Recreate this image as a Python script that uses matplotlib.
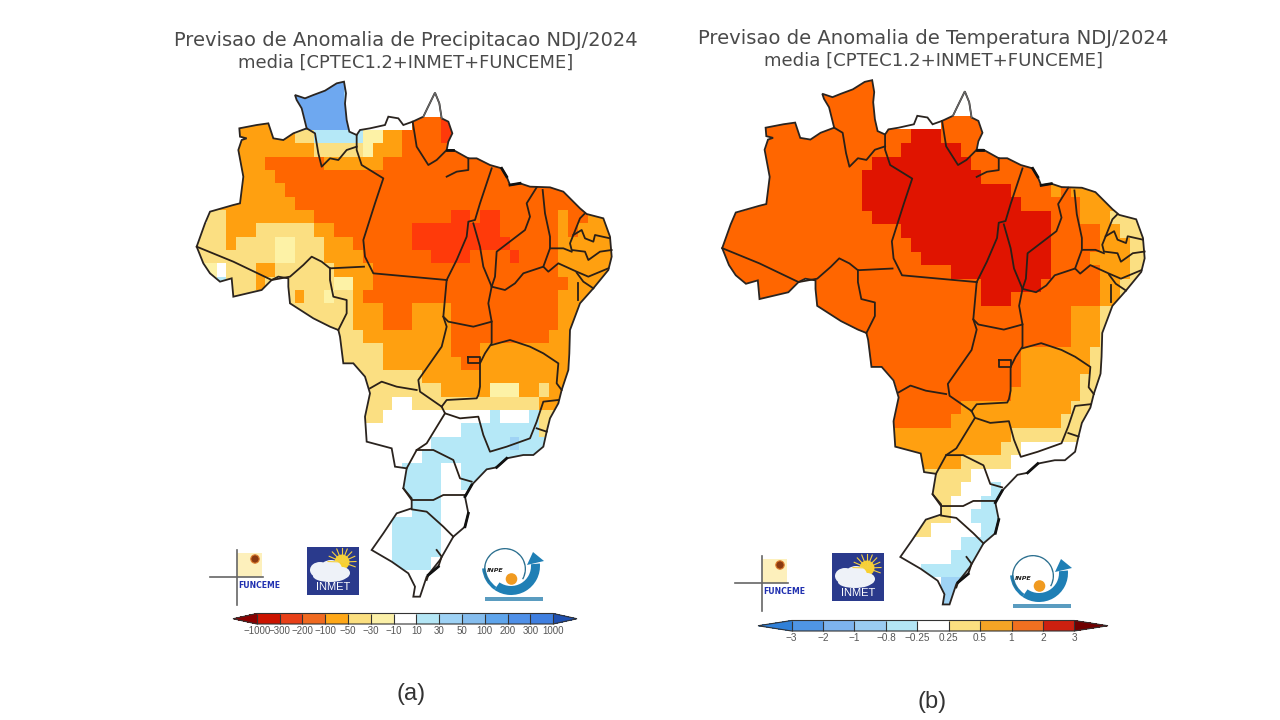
import numpy as np
import matplotlib
matplotlib.use('Agg')
import matplotlib.pyplot as plt
from matplotlib.cm import ScalarMappable
from matplotlib.colors import BoundaryNorm, ListedColormap
from matplotlib.patches import Circle, Ellipse, Polygon, Rectangle, Wedge

W, H = 1280, 720

titles_a = ['Previsao de Anomalia de Precipitacao NDJ/2024', 'media [CPTEC1.2+INMET+FUNCEME]']
titles_b = ['Previsao de Anomalia de Temperatura NDJ/2024', 'media [CPTEC1.2+INMET+FUNCEME]']

# colour classes of the grid
class_colors = {'.': '#ffffff', 'P': '#fdf2a6', 'Y': '#fbdf82', 'O': '#ffa010', 'D': '#ff6600',
                'R': '#ff3a0a', 'X': '#e01400', 'B': '#b5e8f7', 'C': '#9fd3f5', 'M': '#6ea8f0'}

# each row: "startcolumn+class" runs, the run lasts until the next one
rows_a = [
    '10M', '10M 15C 16.', '10M 16.', '3O 11M 17. 22D 25R 27.',
    '3O 10Y 12B 17P 19O 21D 25R 27D', '3O 12Y 17P 18O 21D', '3O 7D 13O 19D', '3O 8D',
    '3O 9D', '1O 10D', '1Y 3O 12D 26R 28D 29R 31D 37O 38D 40O',
    '0Y 3O 6Y 12O 14D 22R 31D 37O 38D 39O',
    '0Y 3O 4Y 8P 10Y 13O 16D 22R 32D 37O',
    '0Y 8P 10Y 13O 17D 24R 28D 32R 33D 37O',
    '0P 2. 3Y 6O 8Y 14O 18D 37O',
    '0P 2B 3Y 6O 7Y 14P 16O 18D 38O',
    '3Y 10O 11Y 13P 14Y 16O 17D 37O',
    '3Y 16O 19D 22O 26D 37O', '3Y 16O 19D 22O 26D 37O', '3Y 17O 26D 36O',
    '3Y 19O 26D 29O', '3Y 19O 27D 29O', '3Y 23O', '3Y 25O 30P 33O 35Y 36O',
    '3Y 20. 22Y 35O', '3Y 19. 30B 31. 34B 35Y', '27B 35Y', '24B 32C 33B 37.',
    '23B', '21B 25. 27B', '21B 25. 27B', '21B 25.', '22B 25.',
    '20B 25.', '20B 25.', '20B 25.', '20B 24.', '', '', '',
]
rows_b = [
    '0D 20.', '0D 20.', '0D 20.', '0D 17. 22D', '0D 19X 22D', '0D 18X 24D', '0D 15X 25D', '0D 14X 26D',
    '0D 14X 29D 33O 34D 35O', '0D 14X 30D 36O', '0D 15X 33D 36O 39Y', '0D 18X 33D 38O 40Y',
    '0D 19X 33D 38O 41Y', '0D 20X 33D 37O 41Y', '0D 23X 33D 38O 41Y', '0D 26X 32D 38O 40Y',
    '0D 26X 29D 38O 40Y', '0D 35O 38Y', '0D 35O 38Y', '0D 35O 38Y', '0D 30O 37Y', '0D 30O 37Y',
    '0D 30O 36Y', '0D 29O 36Y', '0D 24O 35Y', '0D 23O 34Y', '0O 29Y', '0O 28Y 30.',
    '0O 24Y 29.', '0Y 25.', '0Y 24. 27B 28.', '0Y 23. 26B', '0Y 23. 25B', '19Y 21. 26B',
    '24B', '23B', '20B', '22C 24B', '22C', '22C',
]

# traced map lines, in map units
brazil = [(315, 75), (345, 85), (370, 75), (405, 62), (440, 40), (462, 35), (468, 70), (465, 100), (470, 150),
          (478, 185), (500, 195), (510, 180), (540, 175), (585, 165), (595, 140), (625, 145), (640, 165),
          (668, 155), (700, 140), (712, 115), (735, 68), (748, 100), (755, 145), (775, 155), (787, 190),
          (775, 215), (770, 240), (790, 240), (835, 265), (860, 265), (900, 285), (935, 295), (950, 320),
          (960, 345), (990, 340), (1020, 350), (1080, 352), (1120, 365), (1170, 415), (1190, 432), (1240, 445),
          (1260, 500), (1265, 560), (1255, 600), (1210, 655), (1170, 700), (1155, 740), (1140, 780),
          (1138, 850), (1135, 900), (1115, 960), (1105, 1000), (1080, 1045), (1070, 1085), (1060, 1130),
          (1030, 1155), (1000, 1155), (950, 1165), (920, 1192), (890, 1198), (845, 1245), (825, 1280),
          (835, 1330), (825, 1370), (790, 1400), (750, 1470), (710, 1520), (690, 1580), (670, 1580), (675, 1550),
          (655, 1510), (605, 1475), (545, 1440), (580, 1390), (620, 1330), (665, 1315), (665, 1285), (640, 1255),
          (650, 1195), (615, 1190), (605, 1135), (530, 1115), (525, 1040), (540, 970), (525, 920), (490, 880),
          (460, 880), (450, 800), (445, 780), (420, 770), (370, 745), (300, 700), (295, 650), (295, 625),
          (265, 620), (245, 630), (215, 660), (130, 680), (125, 625), (90, 635), (60, 610), (40, 580), (20, 530),
          (45, 460), (60, 425), (130, 405), (150, 400), (160, 320), (145, 240), (155, 210), (170, 205), (150, 200),
          (148, 175), (200, 165), (235, 160), (250, 205), (280, 210), (310, 190), (350, 175), (335, 115), (320, 90)]
state_lines = [
    [(350, 175), (375, 190), (385, 250), (395, 290), (420, 265), (445, 270), (470, 240), (500, 230)],
    [(500, 195), (500, 240), (515, 285), (580, 325), (555, 400), (520, 510), (525, 560), (550, 610), (770, 630)],
    [(20, 530), (130, 575), (245, 630), (300, 620), (340, 585), (365, 560), (395, 575), (420, 595), (522, 590)],
    [(420, 595), (420, 630), (430, 680), (470, 690), (470, 730), (445, 780)],
    [(668, 155), (680, 230), (715, 285), (740, 270), (770, 240)],
    [(770, 320), (800, 305), (835, 300), (835, 265)],
    [(770, 630), (800, 570), (830, 500), (835, 455), (855, 450), (870, 400), (905, 295)],
    [(850, 460), (870, 530), (880, 590), (905, 650), (945, 660), (975, 640), (1000, 610), (1060, 590), (1075, 605),
     (1105, 580), (1160, 605), (1195, 620), (1255, 595)],
    [(1040, 352), (1010, 400), (1020, 440), (1005, 480), (920, 545), (915, 620), (905, 650)],
    [(1058, 360), (1065, 430), (1080, 500), (1080, 535), (1060, 590)],
    [(770, 630), (760, 740), (775, 755), (850, 770), (905, 755), (895, 700), (905, 650)],
    [(760, 740), (770, 770), (755, 830), (720, 880), (685, 930), (690, 965), (755, 1010)],
    [(540, 955), (575, 935), (620, 950), (680, 960)],
    [(905, 755), (905, 820), (885, 850), (870, 880), (870, 950), (865, 975), (860, 985), (770, 990), (755, 1010)],
    [(835, 860), (870, 860), (870, 880), (835, 880), (835, 860)],
    [(905, 825), (960, 810), (1020, 830), (1060, 850), (1105, 880), (1100, 940), (1115, 960)],
    [(765, 1030), (810, 1045), (865, 1040), (880, 1095), (900, 1145), (950, 1130), (1020, 1105), (1040, 1055),
     (1060, 995), (1105, 990)],
    [(1040, 1075), (1070, 1085)],
    [(755, 1010), (765, 1030), (710, 1120), (680, 1140), (650, 1195)],
    [(680, 1140), (730, 1140), (790, 1170), (810, 1225), (845, 1235)],
    [(640, 1255), (665, 1290), (730, 1290), (760, 1275), (825, 1275)],
    [(665, 1318), (710, 1325), (760, 1370), (790, 1400)],
    [(1185, 430), (1170, 445), (1150, 495), (1140, 520), (1145, 540), (1185, 545), (1195, 570), (1230, 545),
     (1265, 540)],
    [(1150, 495), (1175, 480), (1185, 505), (1210, 515), (1215, 495), (1260, 505)],
    [(1080, 535), (1120, 535), (1145, 545)],
    [(1160, 608), (1180, 635), (1210, 655)],
    [(1165, 640), (1165, 690)],
    [(740, 1440), (755, 1460), (745, 1490), (715, 1515), (710, 1530)],
]
# darker bits along the coast
coast_bits = [
    [(770, 240), (790, 240)], [(935, 295), (950, 320)], [(960, 345), (990, 340)],
    [(950, 1165), (920, 1192)], [(845, 1245), (825, 1280)], [(835, 1330), (825, 1370)],
    [(745, 1490), (715, 1515)],
]

# colorbar classes
bounds_a = [-1000, -300, -200, -100, -50, -30, -10, 10, 30, 50, 100, 200, 300, 1000]
labels_a = ['\u22121000', '\u2212300', '\u2212200', '\u2212100', '\u221250', '\u221230', '\u221210',
            '10', '30', '50', '100', '200', '300', '1000']
colors_a = ['#cc1400', '#e84018', '#f06a20', '#ffa818', '#fbdf80', '#fbf0a8', '#ffffff',
            '#b4e6f5', '#9ed2f5', '#85bdee', '#5fa5ec', '#4f90e8', '#3f7fe0']
bounds_b = [-3, -2, -1, -0.8, -0.25, 0.25, 0.5, 1, 2, 3]
labels_b = ['\u22123', '\u22122', '\u22121', '\u22120.8', '\u22120.25', '0.25', '0.5', '1', '2', '3']
colors_b = ['#4f95e5', '#7db3ee', '#9accf2', '#b4e6f5', '#ffffff', '#fbdf80', '#f4a425', '#f07020', '#cc2010']

codes = list(class_colors)
class_cmap = ListedColormap(list(class_colors.values()))


def expand_rows(rows):
    grid = np.zeros((40, 43), dtype=int)
    for i, row in enumerate(rows):
        for tok in row.split():
            grid[i, int(tok[:-1]):] = codes.index(tok[-1])
    return grid


def px_axes(x0, y0, x1, y1):
    return fig.add_axes([x0 / W, 1 - y1 / H, (x1 - x0) / W, (y1 - y0) / H])


def draw_map(rows, x0, y0, scale):
    ax = px_axes(x0, y0, x0 + 1300 / 3 * scale, y0 + 540 * scale)
    ax.set_xlim(0, 1300)
    ax.set_ylim(1620, 0)
    ax.axis('off')
    x_edges = 21 + 29.3 * np.arange(44)
    y_edges = 20 + 40 * np.arange(41)
    mesh = ax.pcolormesh(x_edges, y_edges, expand_rows(rows), cmap=class_cmap, vmin=-0.5, vmax=len(codes) - 0.5)
    shape = Polygon(brazil, closed=True, transform=ax.transData)
    mesh.set_clip_path(shape)
    ax.add_patch(Polygon(brazil, closed=True, fill=False, ec='#2a2420', lw=1.3))
    for line in state_lines:
        xs, ys = zip(*line)
        ax.plot(xs, ys, color='#2a2018', lw=1.3, solid_joinstyle='round')
    for line in coast_bits:
        xs, ys = zip(*line)
        ax.plot(xs, ys, color='#111111', lw=2.0)
    # Amapa / Guiana side is drawn thin and grey
    ax.plot([700, 712, 735, 748, 755], [140, 115, 68, 100, 145], color='#666666', lw=1.0)
    return ax


def draw_colorbar(bounds, labels, colors, under, over, box, frac, size):
    cax = px_axes(*box)
    cmap = ListedColormap(colors)
    cmap.set_under(under)
    cmap.set_over(over)
    norm = BoundaryNorm(bounds, len(colors))
    cb = fig.colorbar(ScalarMappable(norm=norm, cmap=cmap), cax=cax, orientation='horizontal', extend='both',
                      extendfrac=frac, spacing='uniform', drawedges=True)
    cb.set_ticks(bounds, labels=labels)
    cb.ax.tick_params(length=0, pad=1.5, labelsize=size, labelcolor='#555555')
    cb.outline.set_edgecolor('#333333')
    cb.outline.set_linewidth(0.8)
    cb.dividers.set_color('#333333')
    cb.dividers.set_linewidth(0.8)
    for lab in cb.ax.get_xticklabels():
        lab.set_family('Liberation Sans')


def funceme(ov, dx, dy):
    ov.add_patch(Rectangle((237 + dx, 553 + dy), 25, 24, fc='#fdf0bc', ec='none'))
    ov.plot([236.7 + dx, 236.7 + dx], [550 + dy, 605 + dy], color='#666666', lw=1.2)
    ov.plot([210 + dx, 263 + dx], [577 + dy, 577 + dy], color='#666666', lw=1.2)
    ov.add_patch(Circle((255 + dx, 559 + dy), 4.2, fc='#8b3a10', ec='#e08030', lw=0.8))
    ov.text(259 + dx, 585 + dy, 'FUNCEME', color='#2030b0', fontsize=5.6, fontweight='bold', ha='center', va='center')


def inmet(ov, dx, dy):
    ov.add_patch(Rectangle((307 + dx, 547 + dy), 52, 48, fc='#2a3a8c', ec='none'))
    for ang in np.arange(-20, 200, 22):
        a = np.deg2rad(ang)
        ov.plot([342 + dx, 342 + dx + 14 * np.cos(a)], [562 + dy, 562 + dy - 14 * np.sin(a)], color='#f5d040', lw=0.8)
    ov.add_patch(Circle((342 + dx, 562 + dy), 7.5, fc='#f8d030', ec='none'))
    for cx, cy, rx, ry in [(320, 570, 10, 8), (331, 569, 11, 9), (342, 573, 8, 6), (330, 576, 17, 6)]:
        ov.add_patch(Ellipse((cx + dx, cy + dy), 2 * rx, 2 * ry, fc='#eef2f8', ec='none'))
    ov.text(333 + dx, 587.5 + dy, 'INMET', color='white', fontsize=8, ha='center', va='center', family='Liberation Sans')


def inpe(ov, dx, dy):
    # y axis is inverted here, so angle 90 is the bottom of the circle
    ov.add_patch(Wedge((511 + dx, 566 + dy), 29, -5, 125, width=9, fc='#1f7fb5', ec='none'))
    ov.add_patch(Wedge((511 + dx, 566 + dy), 29, 125, 175, width=3.5, fc='#1f7fb5', ec='none'))
    ov.add_patch(Polygon([(527 + dx, 565 + dy), (544 + dx, 561 + dy), (533 + dx, 552 + dy)], fc='#1f7fb5', ec='none'))
    ov.add_patch(Wedge((505 + dx, 569 + dy), 21, 140, 390, width=1.3, fc='#2b6f8f', ec='none'))
    ov.add_patch(Circle((511.5 + dx, 579 + dy), 5.8, fc='#f09a20', ec='none'))
    ov.text(495 + dx, 571 + dy, 'INPE', color='#222222', fontsize=4.6, style='italic', fontweight='bold',
            ha='center', va='center')
    ov.add_patch(Rectangle((485 + dx, 597 + dy), 58, 3.5, fc='#5a9cc0', ec='none'))


fig = plt.figure(figsize=(12.8, 7.2), dpi=100, facecolor='white')
draw_map(rows_a, 190, 70, 1.0)
draw_map(rows_b, 715.4, 68.3, 1.018)

draw_colorbar(bounds_a, labels_a, colors_a, '#8b0000', '#2050b0', (233, 613.5, 577, 624), 0.08, 7.0)
draw_colorbar(bounds_b, labels_b, colors_b, '#3080d8', '#700000', (758, 620.5, 1108, 631), 0.119, 7.2)

ov = fig.add_axes([0, 0, 1, 1], zorder=5)
ov.set_xlim(0, W)
ov.set_ylim(H, 0)
ov.axis('off')
ov.patch.set_alpha(0)

title_kw = dict(ha='center', va='center', color='#4a4a4a', family='DejaVu Sans')
ov.text(406, 40, titles_a[0], fontsize=14.0, **title_kw)
ov.text(406, 63, titles_a[1], fontsize=12.9, **title_kw)
ov.text(933, 38, titles_b[0], fontsize=14.1, **title_kw)
ov.text(934, 61, titles_b[1], fontsize=13.1, **title_kw)

funceme(ov, 0, 0)
inmet(ov, 0, 0)
inpe(ov, 0, 0)
funceme(ov, 525, 6)
inmet(ov, 525, 6)
inpe(ov, 528, 7)

ov.text(411, 694, '(a)', fontsize=17, color='#333333', ha='center', va='center', family='Liberation Sans')
ov.text(932, 702, '(b)', fontsize=17, color='#333333', ha='center', va='center', family='Liberation Sans')

fig.savefig('out.png', dpi=100)
